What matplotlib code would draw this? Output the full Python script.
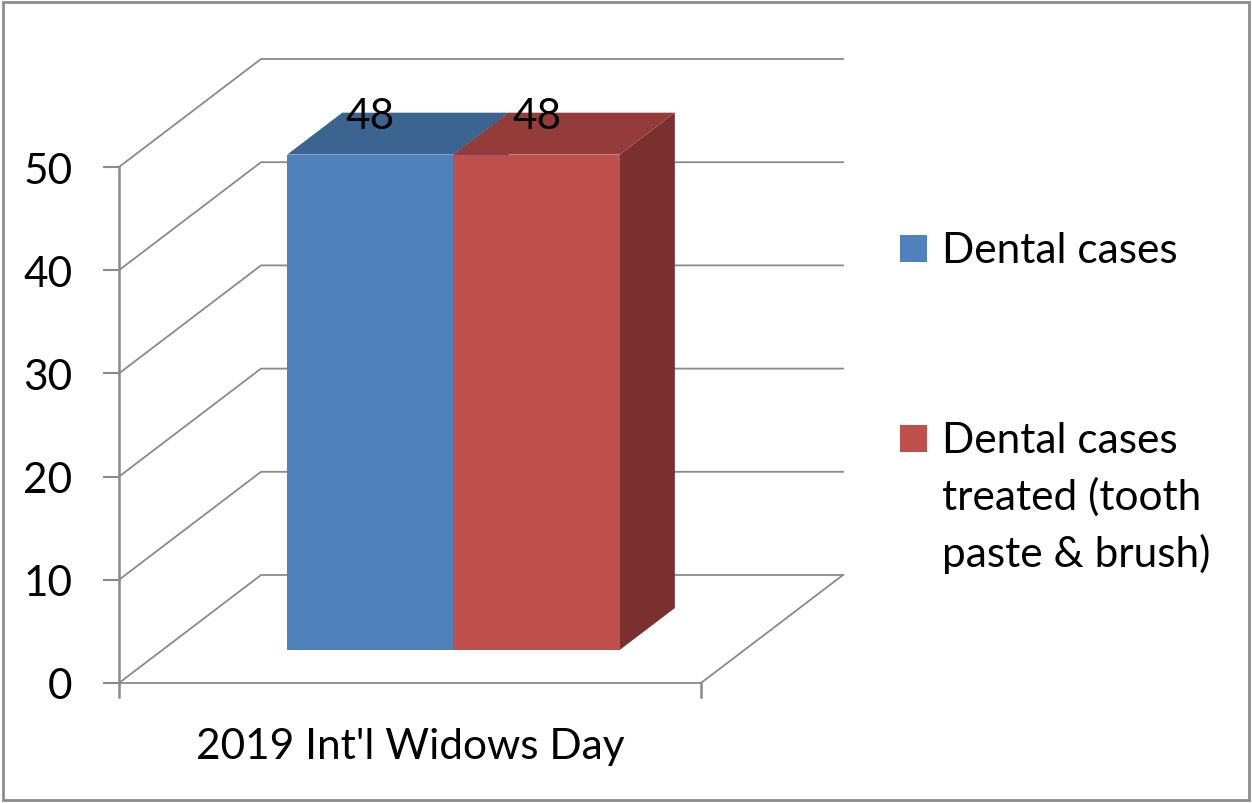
import matplotlib.pyplot as plt
from matplotlib.patches import Polygon, Rectangle

plt.rcParams['font.family'] = ['Lato', 'DejaVu Sans']

# data
category = "2019 Int'l Widows Day"
series = ["Dental cases", "Dental cases\ntreated (tooth\npaste & brush)"]
values = [48, 48]
y_ticks = [0, 10, 20, 30, 40, 50]

front_cols = ['#4F81BD', '#C0504D']
top_cols = ['#3C6490', '#943C3A']
side_cols = ['#36587F', '#7A302F']
grid_col = '#8A8A8A'
FS = 30.5

# 3d look (oblique projection, in value units)
S = 10.32            # pixels per value unit
DX, DY = 142 / S, 108 / S   # depth offset of the back wall
W = 582 / S          # width of the floor
GAP = 1.5            # excel gap width 150%
Z0, Z1 = 0.306, 0.694  # bar depth range

fig = plt.figure(figsize=(12.52, 8.04), dpi=100)
ax = fig.add_axes([0, 0, 1, 1])
ax.set_xlim(-119 / S, (1252 - 119) / S)
ax.set_ylim((684 - 804) / S, 684 / S)
for sp in ['top', 'right', 'bottom']:
    ax.spines[sp].set_visible(False)

# walls / floor grid
for v in y_ticks:
    ax.plot([0, DX, DX + W], [v, v + DY, v + DY], color=grid_col, lw=1.3, zorder=1)
ax.plot([0, W, W + DX], [0, 0, DY], color=grid_col, lw=1.3, zorder=1)
# category tick marks
for xx in [0, W]:
    ax.plot([xx, xx], [0, -14 / S], color=grid_col, lw=1.8, zorder=1)

# y axis
ax.spines['left'].set_position(('data', 0))
ax.spines['left'].set_bounds(0, max(y_ticks))
ax.spines['left'].set_color(grid_col)
ax.spines['left'].set_linewidth(1.8)
ax.set_yticks(y_ticks)
ax.set_xticks([])
ax.tick_params(axis='y', length=11.5, width=1.5, color=grid_col, labelsize=FS, pad=22)

# bars
bw = W / (len(values) + GAP)
x_start = GAP * bw / 2
for i, v in enumerate(values):
    x0 = x_start + i * bw
    x1 = x0 + bw
    side = [(x1 + Z0 * DX, Z0 * DY), (x1 + Z1 * DX, Z1 * DY),
            (x1 + Z1 * DX, v + Z1 * DY), (x1 + Z0 * DX, v + Z0 * DY)]
    top = [(x0 + Z0 * DX, v + Z0 * DY), (x1 + Z0 * DX, v + Z0 * DY),
           (x1 + Z1 * DX, v + Z1 * DY), (x0 + Z1 * DX, v + Z1 * DY)]
    front = [(x0 + Z0 * DX, Z0 * DY), (x1 + Z0 * DX, Z0 * DY),
             (x1 + Z0 * DX, v + Z0 * DY), (x0 + Z0 * DX, v + Z0 * DY)]
    ax.add_patch(Polygon(side, closed=True, fc=side_cols[i], ec='none', zorder=3))
    ax.add_patch(Polygon(top, closed=True, fc=top_cols[i], ec='none', zorder=3))
    ax.add_patch(Polygon(front, closed=True, fc=front_cols[i], ec='none', zorder=3))
    ax.text((x0 + x1) / 2 + Z0 * DX, v + Z1 * DY - 0.3, str(v), ha='center',
            va='center', fontsize=FS, zorder=4)

ax.text(W / 2, -63 / S, category, ha='center', va='center', fontsize=FS)

# legend (each entry's first line sits level with its square)
leg_y = [263, 453]
line_step = 57
for i, lab in enumerate(series):
    yb = 1 - leg_y[i] / 804
    fig.patches.append(Rectangle((900 / 1252, yb), 27 / 1252, 27 / 804,
                                 transform=fig.transFigure, fc=front_cols[i], ec='none'))
    for k, line in enumerate(lab.split('\n')):
        fig.text(942 / 1252, yb - k * line_step / 804, line, ha='left',
                 va='baseline', fontsize=FS)

# outer frame
fig.patches.append(Rectangle((3 / 1252, 3 / 804), 1246 / 1252, 798 / 804,
                             transform=fig.transFigure, fill=False, ec='#8C8C8C', lw=2))

fig.savefig('out.png', dpi=100)
